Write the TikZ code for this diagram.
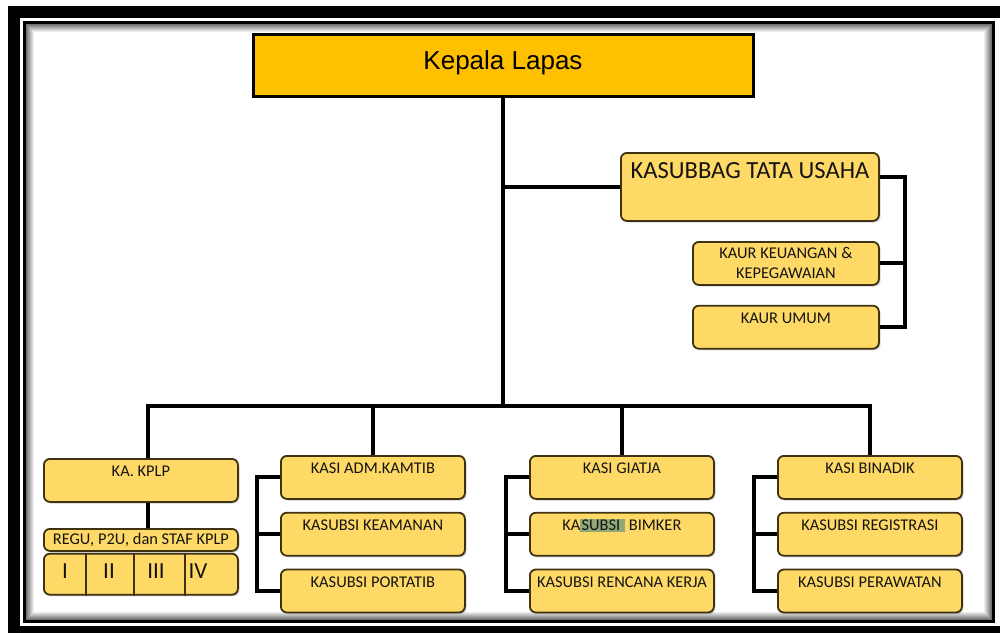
\documentclass[tikz,border=0pt]{standalone}
\usepackage{fontspec}
\setmainfont{Carlito}
\newfontfamily\arialfont{Liberation Sans}
\usetikzlibrary{shadows,positioning}
\definecolor{boxfill}{HTML}{FFD966}
\definecolor{boxline}{HTML}{3F3210}
\definecolor{headfill}{HTML}{FFC000}
\definecolor{headrim}{HTML}{C9A65A}
\definecolor{marker}{HTML}{8FA876}
\newcommand\markword[1]{{\setlength\fboxsep{0.6pt}\colorbox{marker}{#1}}}
\tikzset{unit/.style={draw=boxline, fill=boxfill, line width=0.9pt, rounded corners=3pt,
                      inner sep=0pt, text=black!92, font=\fontsize{8.2}{10}\selectfont,
                      minimum height=21.5pt, anchor=north west,
                      drop shadow={shadow xshift=0.8pt, shadow yshift=-0.8pt, opacity=0.35}},
        unit top/.style={unit, text height=9pt, text depth=12.5pt},
        head/.style={draw=black, fill=headfill, line width=1.5pt, minimum width=250pt,
                     minimum height=31pt, inner sep=0pt, text height=17.6pt, text depth=13.4pt,
                     font=\arialfont\fontsize{13}{15}\selectfont,
                     drop shadow={shadow xshift=1pt, shadow yshift=-1pt, fill=headrim, opacity=1}},
        numeral/.style={font=\fontsize{11.5}{12}\selectfont, text=black!92, inner sep=0pt},
        link/.style={line width=2pt, draw=black},
        }
\begin{document}
\begin{tikzpicture}[x=0.5pt, y=-0.5pt]
    \useasboundingbox (0,0) rectangle (1000,632);
    \clip (0,0) rectangle (1000,632);
    % frame
    \draw[line width=6pt] (14,11.5) rectangle (1008,632);
    \draw[line width=1.5pt] (24.5,22.5) rectangle (993,621.5);
    \foreach \i in {1,...,8}{
        \pgfmathsetmacro\g{(9-\i)*7}
        \draw[black!\g, line width=0.5pt] (25.5+\i,23.5+\i) rectangle (992-\i,620.5-\i);
    }

    \node[head] (kepala) at (503,65) {Kepala Lapas};

    % tata usaha
    \node[unit, minimum width=129pt, minimum height=34pt, text height=13pt, text depth=21pt,
          font=\fontsize{12.3}{14}\selectfont] (kasubbag) at (620,152) {KASUBBAG TATA USAHA};
    \node[unit, minimum width=93pt, align=center] (keuangan) at (692,241) {KAUR KEUANGAN \&\\KEPEGAWAIAN};
    \node[unit top, minimum width=93pt, below=9.5pt of keuangan] (umum) {KAUR UMUM};

    % seksi
    \node[unit top, minimum width=97pt] (kplp) at (43,458) {KA. KPLP};
    \node[unit, minimum width=97pt, minimum height=11pt] (regu) at (43,528) {REGU, P2U, dan STAF KPLP};
    \node[unit, minimum width=97pt, minimum height=20.5pt, below=0.5pt of regu] (regu cells) {};
    \node[numeral] (n1) at (65,571) {I};
    \node[numeral] (n2) at (109,571) {II};
    \node[numeral] (n3) at (156,571) {III};
    \node[numeral] (n4) at (198,571) {IV};

    \node[unit top, minimum width=92pt] (adm) at (280,455) {KASI ADM.KAMTIB};
    \node[unit top, minimum width=92pt, below=6pt of adm] (keamanan) {KASUBSI KEAMANAN};
    \node[unit top, minimum width=92pt, below=6pt of keamanan] (portatib) {KASUBSI PORTATIB};

    \node[unit top, minimum width=92pt] (giatja) at (529,455) {KASI GIATJA};
    \node[unit top, minimum width=92pt, below=6pt of giatja] (bimker) {KA\markword{SUBSI\ }\ BIMKER};
    \node[unit top, minimum width=92pt, below=6pt of bimker] (rencana) {KASUBSI RENCANA KERJA};

    \node[unit top, minimum width=92pt] (binadik) at (777,455) {KASI BINADIK};
    \node[unit top, minimum width=92pt, below=6pt of binadik] (registrasi) {KASUBSI REGISTRASI};
    \node[unit top, minimum width=92pt, below=6pt of registrasi] (perawatan) {KASUBSI PERAWATAN};

    % lines
    \coordinate (bus) at (503,406);
    \coordinate (tu bend) at (905,177);
    \draw[link] (kepala.south) -- (bus);
    \draw[link] (kepala.south |- kasubbag.west) -- (kasubbag.west);
    \draw[link] (kasubbag.east |- tu bend) -- (tu bend) |- (umum.east);
    \draw[link] (keuangan.east) -- (keuangan.east -| tu bend);
    \draw[link] ([xshift=3.5pt]kplp.north) |- (bus) -| (binadik.north);
    \draw[link] (adm.north) -- (adm.north |- bus);
    \draw[link] (giatja.north) -- (giatja.north |- bus);
    \draw[link] ([xshift=3.5pt]kplp.south) -- ([xshift=3.5pt]regu.north);
    \foreach \head/\a/\b in {adm/keamanan/portatib, giatja/bimker/rencana, binadik/registrasi/perawatan}{
        \draw[link] (\head.west) -- ++(-11.5pt,0) |- (\b.west);
        \draw[link] (\a.west) -- ++(-11.5pt,0);
    }
    \foreach \x in {86,134,185}
        \draw[boxline, line width=0.9pt] (\x,0 |- regu cells.north) -- (\x,0 |- regu cells.south);
\end{tikzpicture}
\end{document}
